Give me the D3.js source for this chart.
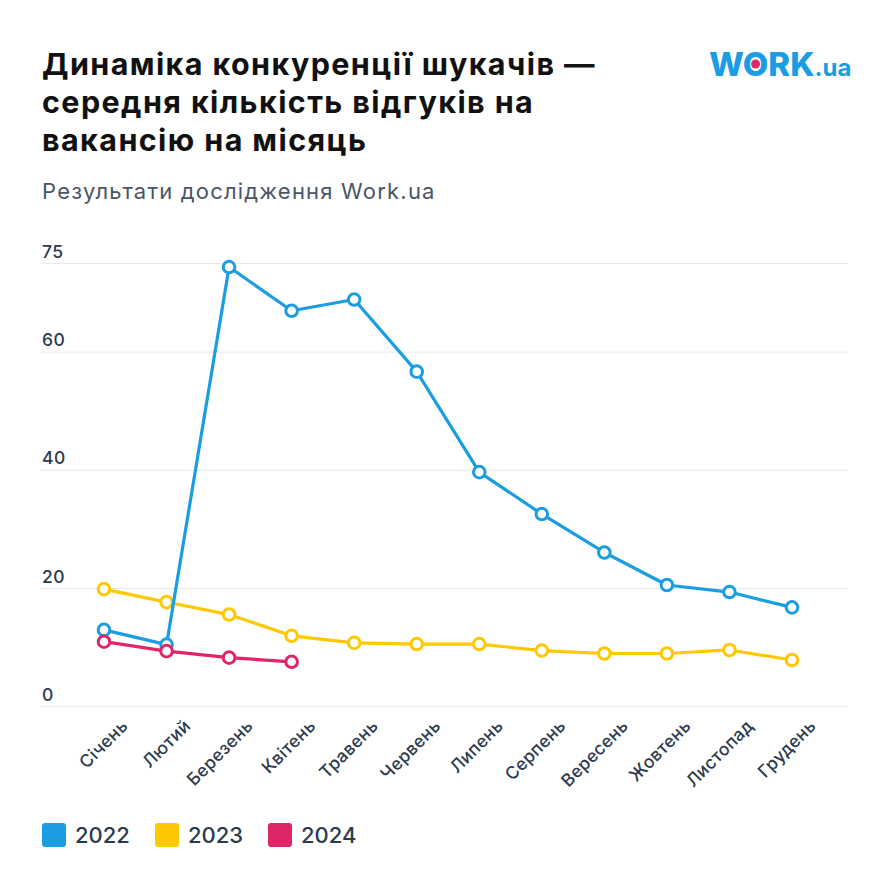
<!DOCTYPE html>
<html><head><meta charset="utf-8">
<script src="https://cdn.jsdelivr.net/npm/d3@7"></script>
<style>
html,body{margin:0;padding:0;background:#fff;}
svg{display:block;}
</style></head>
<body>
<svg id="chart" width="890" height="890"></svg>
<script>
const months = ["Січень","Лютий","Березень","Квітень","Травень","Червень","Липень","Серпень","Вересень","Жовтень","Листопад","Грудень"];
const years = ["2022","2023","2024"];
const values2022 = [13.0,10.5,74.4,67.0,68.9,56.7,39.7,32.6,26.1,20.6,19.4,16.8];
const values2023 = [19.9,17.7,15.6,12.0,10.8,10.6,10.6,9.5,9.0,9.0,9.6,7.9];
const values2024 = [11.0,9.4,8.3,7.6];
const yTicks = [0,20,40,60,75];
const colors = {"2022":"#1a9de2","2023":"#ffc800","2024":"#e0266b"};

const svg = d3.select("#chart");
const font = "Inter, 'Open Sans', sans-serif";
const textColor = "#2c3a4f";

// Title
const title = ["Динаміка конкуренції шукачів —","середня кількість відгуків на","вакансію на місяць"];
svg.append("g").selectAll("text").data(title).join("text")
  .attr("x",42).attr("y",(d,i)=>75+i*38)
  .attr("font-family",font).attr("font-weight",700).attr("font-size",30.5)
  .attr("letter-spacing",1.4)
  .attr("fill","#111").text(d=>d);

svg.append("text").attr("x",42).attr("y",199)
  .attr("font-family",font).attr("font-size",22).attr("fill","#4a5568")
  .attr("letter-spacing",1.2)
  .text("Результати дослідження Work.ua");

// Logo
const logo = svg.append("g");
const lt = logo.append("text").attr("x",709).attr("y",76)
  .attr("font-family",font).attr("font-weight",800).attr("font-size",33).attr("fill","#1a9de2");
const tW = lt.append("tspan").text("W");
const tO = lt.append("tspan").text("O");
lt.append("tspan").text("RK");
lt.append("tspan").attr("font-size",24).attr("font-weight",700).text(".ua");

const x = d3.scalePoint().domain(months).range([104,792]);
const y = d3.scaleLinear().domain([0,75]).range([706.7,263.5]);

// Grid
svg.append("g").selectAll("line").data(yTicks).join("line")
  .attr("x1",40).attr("x2",848).attr("y1",d=>y(d)).attr("y2",d=>y(d))
  .attr("stroke","#e9e9ec").attr("stroke-width",1);

// Y axis labels
svg.append("g").selectAll("text").data(yTicks).join("text")
  .attr("x",42).attr("y",d=>y(d)-6)
  .attr("font-family",font).attr("font-size",17.5).attr("font-weight",500).attr("fill",textColor)
  .attr("letter-spacing",0.4)
  .text(d=>d);

// X axis labels
svg.append("g").selectAll("text").data(months).join("text")
  .attr("transform",d=>`translate(${x(d)+25},${727}) rotate(-45)`)
  .attr("text-anchor","end")
  .attr("font-family",font).attr("font-size",17.5).attr("font-weight",500).attr("fill",textColor)
  .attr("letter-spacing",0.3)
  .text(d=>d);

const series = [
  {year:"2023", values:values2023},
  {year:"2022", values:values2022},
  {year:"2024", values:values2024}
];
const line = d3.line().x((d,i)=>x(months[i])).y(d=>y(d));
series.forEach(s=>{
  const g = svg.append("g");
  g.append("path").datum(s.values).attr("d",line)
    .attr("fill","none").attr("stroke",colors[s.year]).attr("stroke-width",3.2)
    .attr("stroke-linejoin","round");
  g.selectAll("circle").data(s.values).join("circle")
    .attr("cx",(d,i)=>x(months[i])).attr("cy",d=>y(d)).attr("r",5.8)
    .attr("fill","#fff").attr("stroke",colors[s.year]).attr("stroke-width",3);
});

// Logo dot inside O
const oStart = tO.node().getStartPositionOfChar(0).x;
const oEnd = tO.node().getEndPositionOfChar(0).x;
logo.append("circle").attr("cx",(oStart+oEnd)/2).attr("cy",64).attr("r",4.5).attr("fill","#e0266b");

// Legend
const legX = [42,155,268];
const lg = svg.append("g").selectAll("g").data(years).join("g")
  .attr("transform",(d,i)=>`translate(${legX[i]},823)`);
lg.append("rect").attr("width",24).attr("height",24).attr("rx",3).attr("fill",d=>colors[d]);
lg.append("text").attr("x",33).attr("y",20)
  .attr("font-family",font).attr("font-size",22).attr("font-weight",500).attr("fill",textColor)
  .text(d=>d);
</script>
</body></html>
